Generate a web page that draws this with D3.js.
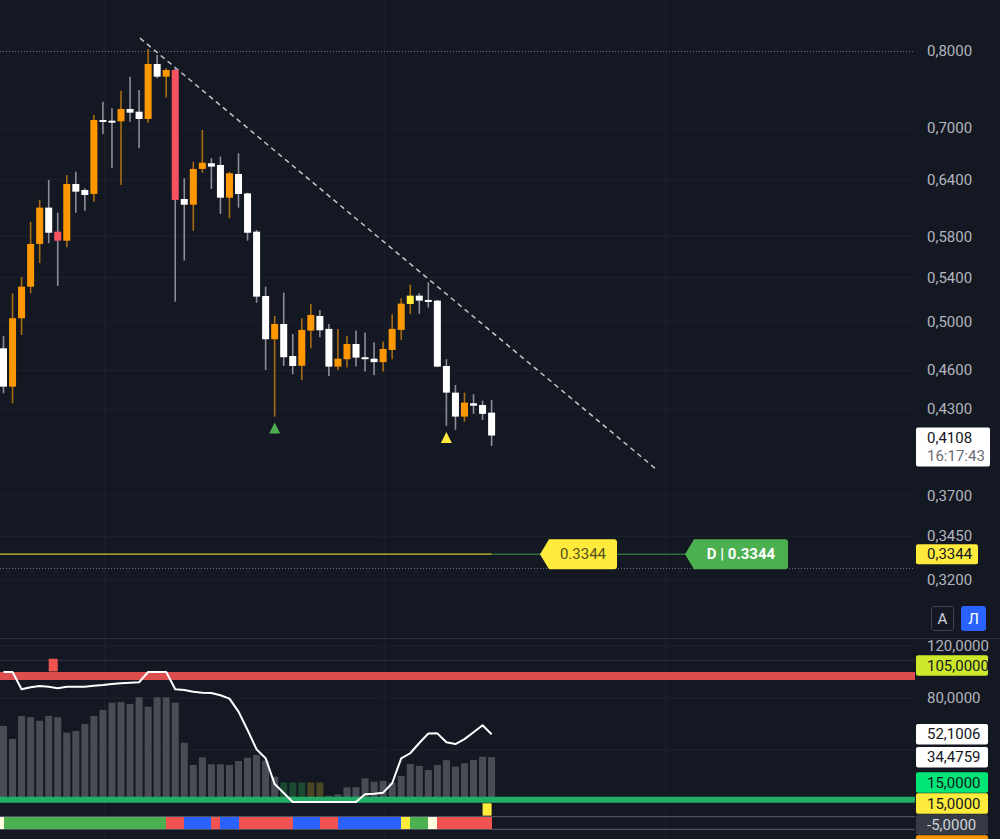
<!DOCTYPE html>
<html><head><meta charset="utf-8">
<script src="https://cdn.jsdelivr.net/npm/d3@7"></script>
<style>html,body{margin:0;padding:0;background:#141823;}svg{display:block;font-family:Roboto,"Noto Sans",sans-serif;}</style>
</head><body>
<svg id="chart" width="1000" height="839"></svg>
<script>
// ---------- DATA ----------
const opens  = [.4778,.4471,.5034,.5317,.5726,.6098,.5849,.5758,.6353,.6287,.6244,.7098,.7090,.7082,.7235,.7201,.7111,.7822,.7652,.7741,.6190,.6129,.6521,.6585,.6566,.6204,.6464,.6250,.5849,.5232,.4854,.4984,.4715,.4636,.4927,.5054,.4942,.4629,.4689,.4814,.4705,.4693,.4665,.4765,.4933,.5160,.5235,.5196,.5190,.4634,.4425,.4245,.4344,.4331,.4274];
const highs  = [.4882,.5257,.5407,.5951,.6180,.6397,.6045,.6453,.6490,.6306,.7160,.7327,.7244,.7468,.7652,.7477,.8028,.7945,.7764,.7764,.6416,.6603,.6977,.6643,.6661,.6490,.6700,.6258,.5866,.5317,.5054,.5262,.4898,.5034,.5160,.5107,.4984,.4940,.4882,.4928,.4910,.4826,.4834,.5069,.5211,.5336,.5257,.5358,.5196,.4689,.4484,.4425,.4413,.4364,.4370];
const lows   = [.4420,.4344,.4890,.5257,.5538,.5733,.5323,.5693,.6045,.6066,.6161,.6929,.6535,.6342,.7078,.6758,.7065,.7630,.7381,.5181,.5563,.5859,.6479,.6298,.6031,.5987,.6098,.5758,.5172,.4602,.4245,.4634,.4569,.4523,.4778,.4871,.4555,.4602,.4621,.4629,.4589,.4561,.4589,.4689,.4848,.5069,.5072,.5127,.4624,.4177,.4148,.4208,.4265,.4221,.4034];
const closes = [.4471,.5034,.5317,.5726,.6098,.5838,.5758,.6353,.6269,.6233,.7098,.7086,.7080,.7235,.7189,.7111,.7822,.7652,.7741,.6180,.6129,.6521,.6592,.6547,.6204,.6472,.6244,.5838,.5226,.4854,.4984,.4705,.4634,.4933,.5063,.4930,.4629,.4693,.4814,.4702,.4689,.4665,.4773,.4942,.5163,.5235,.5190,.5187,.4629,.4425,.4245,.4349,.4326,.4265,.4108];
const candleKinds = ["w","o","o","o","o","w","r","o","w","w","o","w","w","o","w","w","o","w","o","r","w","o","o","w","w","o","w","w","w","w","o","w","w","o","o","w","w","o","o","w","w","w","o","o","o","y","w","w","w","w","w","o","w","w","w"];

const priceTicks = [0.80,0.70,0.64,0.58,0.54,0.50,0.46,0.43,0.37,0.345,0.32];
const dottedLevels = [0.80,0.3265];
const supportLevel = 0.3344;
const lastPrice = 0.4108;
const lastTime = "16:17:43";
const trendLine = [[15.1,0.818],[72.3,0.387]];
const signalUp = [{i:30,kind:"green"},{i:49,kind:"yellow"}];
const vGridIdx = [11.2,42.1,73.3];

const histValues = [58.5,48.5,66.2,65.2,62.5,66.2,65.2,53.3,54.6,60.0,66.2,70.8,76.4,76.9,75.4,80.5,73.3,80.5,80.5,76.4,45.6,28.5,34.4,29.0,29.0,28.5,31.5,34.1,36.2,31.8,19.5,15,15,15,15,15,4.8,5.9,11.3,11.3,18.2,15.6,16.2,14.8,20.0,29.2,27.7,24.6,28.5,32.3,27.2,29.8,32.3,34.8,34.4759];
const histKinds = d3.range(55).map(i => (i>=31&&i<=33)?"dg":(i>=34&&i<=35)?"ol":"g");
const oscValues = [100,100,86.7,88.2,89.2,88.7,87.5,88.7,88.7,88.7,89.5,90.0,90.8,91.3,91.8,92.1,100,100,100,86.7,86.2,84.8,84.1,83.8,82.1,79.5,69.5,55.4,40.5,33.6,13.8,6.9,0,0,0,0,0,0,0,0,5.9,6.4,7.2,14.4,33.6,37.5,45.4,52.7,52.8,45.9,44.6,48.4,53.7,59.0,52.1006];
const stripKinds = ["c","g","g","g","g","g","g","g","g","g","g","g","g","g","g","g","g","g","g","r","r","b","b","b","r","b","b","r","r","r","r","r","r","b","b","b","r","r","b","b","b","b","b","b","b","y","g","g","c","r","r","r","r","r","r"];
const upperBand = 96.9, lowerBand = 1.8;
const oscTicks = [120,80];
const oscGrid = [120,80,40];
const oscHline = 109;
const markerTop = {i:6, from:110.2, to:100.4};
const markerBottom = {i:54, from:-1, to:-10.5};
const stripRange = [-11.3,-21];
const oscLabels = [
  {v:105, text:"105,0000", bg:"#cde82a", fg:"#131722"},
  {v:52.1006, text:"52,1006", bg:"#ffffff", fg:"#131722"},
  {v:34.4759, text:"34,4759", bg:"#ffffff", fg:"#131722"},
  {v:15, text:"15,0000", bg:"#00e676", fg:"#131722"},
  {v:15, text:"15,0000", bg:"#ffeb3b", fg:"#131722"},
  {v:-5, text:"-5,0000", bg:"#363a45", fg:"#d1d4dc"},
  {v:-6, text:"", bg:"#ff9800", fg:"#131722"}
];

// ---------- SETUP ----------
const svg = d3.select("#chart");
const plotR = 915;
const x = d3.scaleLinear().domain([0,54]).range([3.5,491.6]);
const y = d3.scaleLog().domain([0.32,0.8]).range([579.6,51]);
const yo = d3.scaleLinear().domain([0,120]).range([802,646]);
const fmt = v => d3.format(".4f")(v).replace(".",",");
const colors = {o:"#ff9800", w:"#ffffff", r:"#f7525f", y:"#ffeb3b"};
const wickColors = {o:"#a96c14", w:"#8c8f99", r:"#8c8f99", y:"#a96c14"};

svg.append("rect").attr("width",1000).attr("height",839).attr("fill","#141823");

// grid
const g = svg.append("g");
g.selectAll(".vg").data(vGridIdx).join("line")
  .attr("x1",d=>x(d)).attr("x2",d=>x(d)).attr("y1",0).attr("y2",839)
  .attr("stroke","#1e222d").attr("stroke-width",1);
g.selectAll(".hg").data(priceTicks.filter(t=>t!==0.8)).join("line")
  .attr("x1",0).attr("x2",plotR).attr("y1",d=>y(d)).attr("y2",d=>y(d))
  .attr("stroke","#1e222d");
g.selectAll(".dl").data(dottedLevels).join("line")
  .attr("x1",0).attr("x2",plotR).attr("y1",d=>Math.round(y(d))+0.5).attr("y2",d=>Math.round(y(d))+0.5)
  .attr("stroke","#6f727c").attr("stroke-dasharray","1,2");
g.selectAll(".og").data(oscGrid).join("line")
  .attr("x1",0).attr("x2",plotR).attr("y1",d=>yo(d)).attr("y2",d=>yo(d))
  .attr("stroke","#1e222d");
g.append("line").attr("x1",0).attr("x2",plotR).attr("y1",yo(oscHline)).attr("y2",yo(oscHline)).attr("stroke","#2e323e");
// pane separator
svg.append("line").attr("x1",0).attr("x2",1000).attr("y1",638.5).attr("y2",638.5).attr("stroke","#2a2e39");

// ---------- PRICE PANE ----------
svg.append("defs").append("clipPath").attr("id","pc").append("rect").attr("x",0).attr("y",0).attr("width",plotR).attr("height",638);
const pp = svg.append("g").attr("clip-path","url(#pc)");

// support line
pp.append("line").attr("x1",0).attr("x2",x(54)).attr("y1",y(supportLevel)).attr("y2",y(supportLevel))
  .attr("stroke","#d6c52a").attr("stroke-width",1.2);
pp.append("line").attr("x1",x(54)).attr("x2",690).attr("y1",y(supportLevel)).attr("y2",y(supportLevel))
  .attr("stroke","#3a9a4a").attr("stroke-width",1);

// trend line
pp.append("path").datum(trendLine)
  .attr("d", d3.line().x(d=>x(d[0])).y(d=>y(d[1])))
  .attr("stroke","#c3c5cc").attr("stroke-width",1.5).attr("stroke-dasharray","5,4").attr("fill","none");

const idx = d3.range(opens.length);
// wicks
pp.selectAll(".wick").data(idx).join("line")
  .attr("x1",i=>x(i)).attr("x2",i=>x(i))
  .attr("y1",i=>y(highs[i])).attr("y2",i=>y(lows[i]))
  .attr("stroke",i=>wickColors[candleKinds[i]]).attr("stroke-width",1.6);
// bodies
const bw = 7;
pp.selectAll(".body").data(idx).join("rect")
  .attr("x",i=>x(i)-bw/2).attr("width",bw)
  .attr("y",i=>y(Math.max(opens[i],closes[i])))
  .attr("height",i=>Math.max(2, Math.abs(y(opens[i])-y(closes[i]))))
  .attr("fill",i=>colors[candleKinds[i]]);

// signal triangles
pp.selectAll(".sig").data(signalUp).join("path")
  .attr("d",d=>{const cx=x(d.i), ty=y(lows[d.i])+6; return `M${cx},${ty}L${cx+5.5},${ty+11}L${cx-5.5},${ty+11}Z`;})
  .attr("fill",d=>d.kind==="green"?"#4caf50":"#ffeb3b");

// labels on support line
function tagPath(tip, left, right, cy, h){
  const t=cy-h/2, b=cy+h/2, r=3;
  return `M${tip},${cy}L${left},${t}L${right-r},${t}Q${right},${t} ${right},${t+r}L${right},${b-r}Q${right},${b} ${right-r},${b}L${left},${b}Z`;
}
const sy = y(supportLevel);
svg.append("path").attr("d",tagPath(540,549,617,sy,30)).attr("fill","#ffeb3b");
svg.append("text").attr("x",583).attr("y",sy).attr("text-anchor","middle").attr("dominant-baseline","central")
  .attr("font-size",15).attr("fill","#55511c").text(String(supportLevel));
svg.append("path").attr("d",tagPath(685,694,788,sy,30)).attr("fill","#4caf50");
svg.append("text").attr("x",741).attr("y",sy).attr("text-anchor","middle").attr("dominant-baseline","central")
  .attr("font-size",15).attr("font-weight","bold").attr("fill","#ffffff").text("D | " + supportLevel);

// price axis
svg.selectAll(".pt").data(priceTicks).join("text")
  .attr("x",927).attr("y",d=>y(d)).attr("dominant-baseline","central")
  .attr("font-size",15).attr("fill","#b2b5be").text(d=>fmt(d));
// last price box
const ly = y(lastPrice);
svg.append("rect").attr("x",916).attr("y",ly-8).attr("width",74).attr("height",39).attr("rx",2).attr("fill","#ffffff");
svg.append("text").attr("x",927).attr("y",ly+2).attr("dominant-baseline","central").attr("font-size",15).attr("fill","#131722").text(fmt(lastPrice));
svg.append("text").attr("x",927).attr("y",ly+20).attr("dominant-baseline","central").attr("font-size",15).attr("fill","#6a6d78").text(lastTime);
// support box
svg.append("rect").attr("x",916).attr("y",sy-10).attr("width",62).attr("height",20).attr("rx",2).attr("fill","#ffeb3b");
svg.append("text").attr("x",927).attr("y",sy).attr("dominant-baseline","central").attr("font-size",15).attr("fill","#131722").text(fmt(supportLevel));

// buttons
svg.append("rect").attr("x",931.5).attr("y",606.5).attr("width",22).attr("height",24).attr("rx",3).attr("fill","#141823").attr("stroke","#434651");
svg.append("text").attr("x",942.5).attr("y",619).attr("text-anchor","middle").attr("dominant-baseline","central").attr("font-size",15).attr("fill","#d1d4dc").text("A");
svg.append("rect").attr("x",961).attr("y",606).attr("width",25).attr("height",25).attr("rx",3).attr("fill","#2962ff");
svg.append("text").attr("x",973.5).attr("y",619).attr("text-anchor","middle").attr("dominant-baseline","central").attr("font-size",15).attr("fill","#ffffff").text("Л");

// ---------- OSCILLATOR PANE ----------
const op = svg.append("g");
// strip border lines
op.selectAll(".sl").data(stripRange).join("line")
  .attr("x1",0).attr("x2",plotR).attr("y1",d=>yo(d)).attr("y2",d=>yo(d))
  .attr("stroke","#5d6170").attr("stroke-width",1);
// red band
op.append("line").attr("x1",0).attr("x2",plotR).attr("y1",yo(upperBand)).attr("y2",yo(upperBand))
  .attr("stroke","#dc4e4e").attr("stroke-width",8);
// histogram
const histColors = {g:"#4a4c55", dg:"#1c4a30", ol:"#4a4724"};
op.selectAll(".hb").data(idx).join("rect")
  .attr("x",i=>x(i)-3.5).attr("width",7)
  .attr("y",i=>yo(histValues[i])).attr("height",i=>yo(0)-yo(histValues[i]))
  .attr("fill",i=>histColors[histKinds[i]]);
// green band
op.append("line").attr("x1",0).attr("x2",plotR).attr("y1",yo(lowerBand)).attr("y2",yo(lowerBand))
  .attr("stroke","#22ad66").attr("stroke-width",6);
// markers
op.append("rect").attr("x",x(markerTop.i-1)).attr("width",x(markerTop.i)-x(markerTop.i-1))
  .attr("y",yo(markerTop.from)).attr("height",yo(markerTop.to)-yo(markerTop.from)).attr("fill","#f05350");
op.append("rect").attr("x",x(markerBottom.i-1)).attr("width",x(markerBottom.i)-x(markerBottom.i-1))
  .attr("y",yo(markerBottom.from)).attr("height",yo(markerBottom.to)-yo(markerBottom.from)).attr("fill","#ffeb3b");
// strip (stepped colour band between candle centres)
const stripColors = {c:"#fffde0", g:"#4caf50", r:"#f05350", b:"#2962ff", y:"#ffeb3b"};
op.selectAll(".st").data(idx).join("rect")
  .attr("x",i=>Math.max(0,x(i-1))).attr("width",i=>x(i)-Math.max(0,x(i-1))+0.8)
  .attr("y",yo(stripRange[0])).attr("height",yo(stripRange[1])-yo(stripRange[0]))
  .attr("shape-rendering","crispEdges")
  .attr("fill",i=>stripColors[stripKinds[i]]);
// oscillator line
op.append("path").datum(idx)
  .attr("d",d3.line().x(i=>x(i)).y(i=>yo(oscValues[i])))
  .attr("fill","none").attr("stroke","#ffffff").attr("stroke-width",2).attr("stroke-linejoin","round");

// osc axis
svg.selectAll(".ot").data(oscTicks).join("text")
  .attr("x",927).attr("y",d=>yo(d)).attr("dominant-baseline","central")
  .attr("font-size",15).attr("fill","#b2b5be").text(d=>fmt(d));
// labels with collision avoidance
let prevBottom = -Infinity;
const bh = 20.5;
oscLabels.forEach(l=>{
  let cy = yo(l.v);
  if (cy - bh/2 < prevBottom + 0.5) cy = prevBottom + 0.5 + bh/2;
  prevBottom = cy + bh/2;
  svg.append("rect").attr("x",916).attr("y",cy-bh/2).attr("width",72).attr("height",bh).attr("rx",2).attr("fill",l.bg);
  svg.append("text").attr("x",927).attr("y",cy).attr("dominant-baseline","central").attr("font-size",15).attr("fill",l.fg).text(l.text);
});
</script>
</body></html>
